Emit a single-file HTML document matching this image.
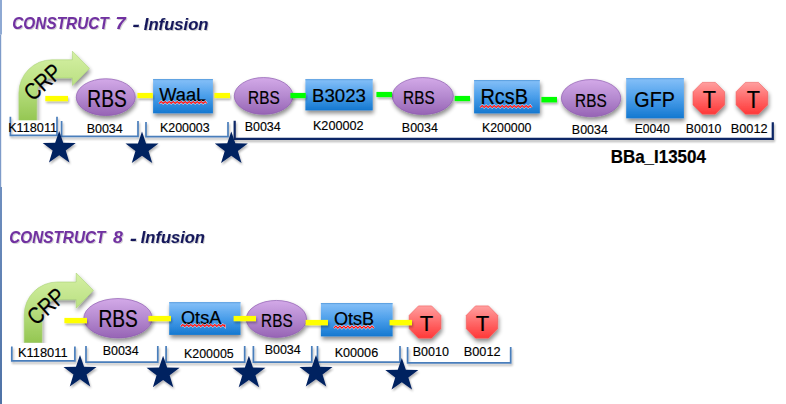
<!DOCTYPE html><html><head><meta charset="utf-8"><style>html,body{margin:0;padding:0;background:#fff;overflow:hidden;}svg{display:block;font-family:"Liberation Sans", sans-serif;}</style></head><body>
<svg width="786" height="404" viewBox="0 0 786 404">
<defs>
<linearGradient id="gp" x1="0" y1="0" x2="0" y2="1"><stop offset="0" stop-color="#D3A9E8"/><stop offset="0.5" stop-color="#B58AD0"/><stop offset="1" stop-color="#9764B5"/></linearGradient>
<linearGradient id="gb" x1="0" y1="0" x2="0" y2="1"><stop offset="0" stop-color="#86C0F8"/><stop offset="0.5" stop-color="#4A9EEA"/><stop offset="1" stop-color="#1478D0"/></linearGradient>
<linearGradient id="gr" x1="0" y1="0" x2="0" y2="1"><stop offset="0" stop-color="#FF9F9F"/><stop offset="0.5" stop-color="#FF6A6A"/><stop offset="1" stop-color="#FF3838"/></linearGradient>
<linearGradient id="gg" x1="0" y1="0" x2="0" y2="1"><stop offset="0" stop-color="#D5F0A4"/><stop offset="0.5" stop-color="#BAE082"/><stop offset="1" stop-color="#94C652"/></linearGradient>
<linearGradient id="lb2" x1="0" y1="0" x2="0" y2="1"><stop offset="0" stop-color="#6F8FBF"/><stop offset="1" stop-color="#4E72A6"/></linearGradient>
<filter id="sh" x="-20%" y="-20%" width="140%" height="170%"><feGaussianBlur in="SourceAlpha" stdDeviation="2.0"/><feOffset dx="1" dy="2.5"/><feComponentTransfer><feFuncA type="linear" slope="0.45"/></feComponentTransfer><feMerge><feMergeNode/><feMergeNode in="SourceGraphic"/></feMerge></filter>
<filter id="shs" x="-20%" y="-20%" width="140%" height="160%"><feGaussianBlur in="SourceAlpha" stdDeviation="1.2"/><feOffset dx="0.8" dy="1.6"/><feComponentTransfer><feFuncA type="linear" slope="0.3"/></feComponentTransfer><feMerge><feMergeNode/><feMergeNode in="SourceGraphic"/></feMerge></filter>
<filter id="sh2" x="-10%" y="-60%" width="120%" height="250%"><feGaussianBlur in="SourceAlpha" stdDeviation="1.0"/><feOffset dx="0.6" dy="1.6"/><feComponentTransfer><feFuncA type="linear" slope="0.3"/></feComponentTransfer><feMerge><feMergeNode/><feMergeNode in="SourceGraphic"/></feMerge></filter>
<filter id="tsh" x="-5%" y="-20%" width="110%" height="150%"><feGaussianBlur in="SourceAlpha" stdDeviation="0.6"/><feOffset dx="0.8" dy="0.8"/><feComponentTransfer><feFuncA type="linear" slope="0.18"/></feComponentTransfer><feMerge><feMergeNode/><feMergeNode in="SourceGraphic"/></feMerge></filter>
</defs>
<rect width="786" height="404" fill="#fff"/>
<rect x="0" y="0" width="2" height="34.5" fill="#8EA9D3"/>
<rect x="0" y="34.5" width="1.2" height="152.5" fill="#7E9BC9"/>
<rect x="0" y="187" width="2" height="217" fill="url(#lb2)"/>
<path d="M18.90,121.00 V92.80 A33,33 0 0 1 51.90,59.80 H72.40 V51.20 L89.50,68.40 L72.40,85.40 V77.90 H51.90 A15.100000000000001,15.100000000000001 0 0 0 36.80,93.00 V121.00 Z" fill="url(#gg)" stroke="#A8D276" stroke-width="0.6" filter="url(#sh)"/>
<ellipse cx="105.75" cy="97.15" rx="29.50" ry="18.40" fill="url(#gp)" stroke="#8E5BB0" stroke-width="0.7" filter="url(#sh)"/>
<ellipse cx="263.60" cy="95.95" rx="29.35" ry="18.40" fill="url(#gp)" stroke="#8E5BB0" stroke-width="0.7" filter="url(#sh)"/>
<ellipse cx="422.80" cy="96.05" rx="30.55" ry="18.50" fill="url(#gp)" stroke="#8E5BB0" stroke-width="0.7" filter="url(#sh)"/>
<ellipse cx="591.05" cy="98.15" rx="29.70" ry="18.60" fill="url(#gp)" stroke="#8E5BB0" stroke-width="0.7" filter="url(#sh)"/>
<rect x="153.10" y="79.10" width="59.80" height="34.20" fill="url(#gb)" filter="url(#sh)"/>
<rect x="153.10" y="79.10" width="59.80" height="1" fill="#4F96DA" opacity="0.8"/>
<rect x="305.40" y="79.20" width="67.30" height="31.20" fill="url(#gb)" filter="url(#sh)"/>
<rect x="305.40" y="79.20" width="67.30" height="1" fill="#4F96DA" opacity="0.8"/>
<rect x="474.10" y="80.10" width="65.70" height="33.30" fill="url(#gb)" filter="url(#sh)"/>
<rect x="474.10" y="80.10" width="65.70" height="1" fill="#4F96DA" opacity="0.8"/>
<rect x="626.20" y="78.20" width="57.70" height="40.10" fill="url(#gb)" filter="url(#sh)"/>
<rect x="626.20" y="78.20" width="57.70" height="1" fill="#4F96DA" opacity="0.8"/>
<polygon points="702.26,82.40 715.34,82.40 724.60,91.71 724.60,104.89 715.34,114.20 702.26,114.20 693.00,104.89 693.00,91.71" fill="url(#gr)" stroke="#F05A5A" stroke-width="0.6" filter="url(#sh)"/>
<polygon points="745.36,82.40 758.44,82.40 767.70,91.71 767.70,104.89 758.44,114.20 745.36,114.20 736.10,104.89 736.10,91.71" fill="url(#gr)" stroke="#F05A5A" stroke-width="0.6" filter="url(#sh)"/>
<rect x="45.30" y="95.90" width="22.70" height="5.30" fill="#FFFF00" filter="url(#sh2)"/>
<rect x="137.40" y="92.90" width="15.40" height="5.20" fill="#FFFF00" filter="url(#sh2)"/>
<rect x="214.40" y="92.90" width="15.60" height="5.20" fill="#FFFF00" filter="url(#sh2)"/>
<rect x="290.40" y="92.90" width="15.40" height="5.20" fill="#00FF00" filter="url(#sh2)"/>
<rect x="376.40" y="91.90" width="15.60" height="5.20" fill="#00FF00" filter="url(#sh2)"/>
<rect x="454.70" y="95.90" width="15.30" height="5.20" fill="#00FF00" filter="url(#sh2)"/>
<rect x="541.40" y="96.90" width="15.60" height="5.50" fill="#00FF00" filter="url(#sh2)"/>
<text x="0" y="0" font-size="23.5" textLength="41.5" lengthAdjust="spacingAndGlyphs" transform="translate(42.6,82.0) rotate(-42) translate(-20.75,8.225)" fill="#000" stroke="#000" stroke-width="0.2">CRP</text>
<rect x="8" y="120.3" width="50" height="14" fill="#fff"/>
<path d="M10.40,116.70 V135.30 H57.00 V116.70" fill="none" stroke="#4A7EBB" stroke-width="1.7" filter="url(#sh2)"/>
<path d="M61.60,121.00 V136.40 H138.00 V121.00" fill="none" stroke="#4A7EBB" stroke-width="1.7" filter="url(#sh2)"/>
<path d="M146.00,121.90 V136.70 H228.00 V121.90" fill="none" stroke="#4A7EBB" stroke-width="1.7" filter="url(#sh2)"/>
<path d="M234.7,120.7 V138.8 H772.8 V122.3" fill="none" stroke="#0F2766" stroke-width="2.2" filter="url(#sh2)"/>
<polygon points="59.20,131.00 63.24,142.84 75.75,143.02 65.74,150.52 69.43,162.48 59.20,155.27 48.97,162.48 52.66,150.52 42.65,143.02 55.16,142.84" fill="#002060" filter="url(#shs)"/>
<polygon points="142.00,131.60 146.04,143.44 158.55,143.62 148.54,151.12 152.23,163.08 142.00,155.87 131.77,163.08 135.46,151.12 125.45,143.62 137.96,143.44" fill="#002060" filter="url(#shs)"/>
<polygon points="231.30,131.40 235.34,143.24 247.85,143.42 237.84,150.92 241.53,162.88 231.30,155.67 221.07,162.88 224.76,150.92 214.75,143.42 227.26,143.24" fill="#002060" filter="url(#shs)"/>
<path d="M24.20,342.50 V315.00 A33,33 0 0 1 57.20,282.00 H76.20 V273.00 L93.40,290.40 L76.20,308.20 V299.60 H57.20 A15.2,15.2 0 0 0 42.00,314.80 V342.50 Z" fill="url(#gg)" stroke="#A8D276" stroke-width="0.6" filter="url(#sh)"/>
<ellipse cx="118.00" cy="318.25" rx="34.25" ry="19.70" fill="url(#gp)" stroke="#8E5BB0" stroke-width="0.7" filter="url(#sh)"/>
<ellipse cx="276.40" cy="318.95" rx="30.15" ry="18.50" fill="url(#gp)" stroke="#8E5BB0" stroke-width="0.7" filter="url(#sh)"/>
<rect x="169.20" y="302.20" width="71.30" height="32.70" fill="url(#gb)" filter="url(#sh)"/>
<rect x="169.20" y="302.20" width="71.30" height="1" fill="#4F96DA" opacity="0.8"/>
<rect x="320.90" y="303.10" width="71.70" height="33.30" fill="url(#gb)" filter="url(#sh)"/>
<rect x="320.90" y="303.10" width="71.70" height="1" fill="#4F96DA" opacity="0.8"/>
<polygon points="418.48,305.90 431.62,305.90 440.90,315.36 440.90,328.74 431.62,338.20 418.48,338.20 409.20,328.74 409.20,315.36" fill="url(#gr)" stroke="#F05A5A" stroke-width="0.6" filter="url(#sh)"/>
<polygon points="475.50,305.90 488.50,305.90 497.70,315.36 497.70,328.74 488.50,338.20 475.50,338.20 466.30,328.74 466.30,315.36" fill="url(#gr)" stroke="#F05A5A" stroke-width="0.6" filter="url(#sh)"/>
<rect x="64.40" y="317.90" width="22.60" height="5.30" fill="#FFFF00" filter="url(#sh2)"/>
<rect x="148.40" y="315.90" width="22.60" height="5.30" fill="#FFFF00" filter="url(#sh2)"/>
<rect x="233.60" y="315.90" width="22.40" height="5.30" fill="#FFFF00" filter="url(#sh2)"/>
<rect x="305.60" y="319.90" width="22.40" height="5.40" fill="#FFFF00" filter="url(#sh2)"/>
<rect x="389.60" y="319.90" width="22.40" height="5.40" fill="#FFFF00" filter="url(#sh2)"/>
<text x="0" y="0" font-size="23.5" textLength="41.5" lengthAdjust="spacingAndGlyphs" transform="translate(46,306.3) rotate(-42) translate(-20.75,8.225)" fill="#000" stroke="#000" stroke-width="0.2">CRP</text>
<rect x="16" y="343" width="52" height="14" fill="#fff"/>
<path d="M11.80,346.50 V360.80 H74.90 V346.50" fill="none" stroke="#4A7EBB" stroke-width="1.7" filter="url(#sh2)"/>
<path d="M86.00,346.00 V362.20 H157.80 V346.00" fill="none" stroke="#4A7EBB" stroke-width="1.7" filter="url(#sh2)"/>
<path d="M166.10,346.00 V362.20 H244.70 V346.00" fill="none" stroke="#4A7EBB" stroke-width="1.7" filter="url(#sh2)"/>
<path d="M253.40,346.00 V362.20 H311.80 V346.00" fill="none" stroke="#4A7EBB" stroke-width="1.7" filter="url(#sh2)"/>
<path d="M317.50,346.00 V362.20 H400.00 V346.00" fill="none" stroke="#4A7EBB" stroke-width="1.7" filter="url(#sh2)"/>
<path d="M407.60,346.90 V362.80 H510.70 V346.90" fill="none" stroke="#4A7EBB" stroke-width="1.7" filter="url(#sh2)"/>
<polygon points="80.00,354.90 84.04,366.74 96.55,366.92 86.54,374.42 90.23,386.38 80.00,379.17 69.77,386.38 73.46,374.42 63.45,366.92 75.96,366.74" fill="#002060" filter="url(#shs)"/>
<polygon points="163.10,355.70 167.14,367.54 179.65,367.72 169.64,375.22 173.33,387.18 163.10,379.97 152.87,387.18 156.56,375.22 146.55,367.72 159.06,367.54" fill="#002060" filter="url(#shs)"/>
<polygon points="248.90,355.70 252.94,367.54 265.45,367.72 255.44,375.22 259.13,387.18 248.90,379.97 238.67,387.18 242.36,375.22 232.35,367.72 244.86,367.54" fill="#002060" filter="url(#shs)"/>
<polygon points="316.00,354.90 320.04,366.74 332.55,366.92 322.54,374.42 326.23,386.38 316.00,379.17 305.77,386.38 309.46,374.42 299.45,366.92 311.96,366.74" fill="#002060" filter="url(#shs)"/>
<polygon points="401.80,358.00 405.84,369.84 418.35,370.02 408.34,377.52 412.03,389.48 401.80,382.27 391.57,389.48 395.26,377.52 385.25,370.02 397.76,369.84" fill="#002060" filter="url(#shs)"/>
<text x="12.22" y="29.32" font-size="17.22" textLength="96.55" lengthAdjust="spacingAndGlyphs" fill="#7030A0" font-weight="bold" font-style="italic" stroke="#7030A0" stroke-width="0.1" filter="url(#tsh)">CONSTRUCT</text>
<text x="115.49" y="28.90" font-size="17.23" textLength="10.16" lengthAdjust="spacingAndGlyphs" fill="#7030A0" font-weight="bold" font-style="italic" stroke="#7030A0" stroke-width="0.1" filter="url(#tsh)">7</text>
<text x="132.50" y="30.52" font-size="17.70" textLength="7.13" lengthAdjust="spacingAndGlyphs" fill="#14185A" font-weight="bold" font-style="italic" stroke="#14185A" stroke-width="0.1" filter="url(#tsh)">-</text>
<text x="143.85" y="30.20" font-size="16.15" textLength="64.63" lengthAdjust="spacingAndGlyphs" fill="#14185A" font-weight="bold" font-style="italic" stroke="#14185A" stroke-width="0.1" filter="url(#tsh)">Infusion</text>
<text x="87.36" y="106.51" font-size="23.25" textLength="39.33" lengthAdjust="spacingAndGlyphs" fill="#000" font-weight="normal" font-style="normal" stroke="#000" stroke-width="0.2">RBS</text>
<text x="159.18" y="100.75" font-size="18.61" textLength="47.14" lengthAdjust="spacingAndGlyphs" fill="#000" font-weight="normal" font-style="normal" stroke="#000" stroke-width="0.2">WaaL</text>
<text x="248.12" y="103.58" font-size="18.19" textLength="31.58" lengthAdjust="spacingAndGlyphs" fill="#000" font-weight="normal" font-style="normal" stroke="#000" stroke-width="0.2">RBS</text>
<text x="312.03" y="101.62" font-size="17.92" textLength="53.86" lengthAdjust="spacingAndGlyphs" fill="#000" font-weight="normal" font-style="normal" stroke="#000" stroke-width="0.2">B3023</text>
<text x="403.08" y="103.70" font-size="18.40" textLength="31.58" lengthAdjust="spacingAndGlyphs" fill="#000" font-weight="normal" font-style="normal" stroke="#000" stroke-width="0.2">RBS</text>
<text x="480.40" y="104.30" font-size="22.72" textLength="47.53" lengthAdjust="spacingAndGlyphs" fill="#000" font-weight="normal" font-style="normal" stroke="#000" stroke-width="0.2">RcsB</text>
<text x="575.10" y="106.58" font-size="18.30" textLength="31.58" lengthAdjust="spacingAndGlyphs" fill="#000" font-weight="normal" font-style="normal" stroke="#000" stroke-width="0.2">RBS</text>
<text x="634.33" y="106.85" font-size="22.41" textLength="40.47" lengthAdjust="spacingAndGlyphs" fill="#000" font-weight="normal" font-style="normal" stroke="#000" stroke-width="0.2">GFP</text>
<text x="702.73" y="107.94" font-size="23.62" textLength="13.24" lengthAdjust="spacingAndGlyphs" fill="#000" font-weight="normal" font-style="normal" stroke="#000" stroke-width="0.2">T</text>
<text x="746.73" y="107.94" font-size="23.62" textLength="13.24" lengthAdjust="spacingAndGlyphs" fill="#000" font-weight="normal" font-style="normal" stroke="#000" stroke-width="0.2">T</text>
<text x="8.17" y="131.65" font-size="13.05" textLength="48.90" lengthAdjust="spacingAndGlyphs" fill="#000" font-weight="normal" font-style="normal" stroke="#000" stroke-width="0.15">K118011</text>
<text x="86.64" y="133.05" font-size="13.05" textLength="36.15" lengthAdjust="spacingAndGlyphs" fill="#000" font-weight="normal" font-style="normal" stroke="#000" stroke-width="0.15">B0034</text>
<text x="159.99" y="131.65" font-size="13.05" textLength="49.68" lengthAdjust="spacingAndGlyphs" fill="#000" font-weight="normal" font-style="normal" stroke="#000" stroke-width="0.15">K200003</text>
<text x="244.64" y="131.05" font-size="13.05" textLength="36.15" lengthAdjust="spacingAndGlyphs" fill="#000" font-weight="normal" font-style="normal" stroke="#000" stroke-width="0.15">B0034</text>
<text x="312.90" y="130.30" font-size="13.05" textLength="50.73" lengthAdjust="spacingAndGlyphs" fill="#000" font-weight="normal" font-style="normal" stroke="#000" stroke-width="0.15">K200002</text>
<text x="401.87" y="131.90" font-size="13.05" textLength="36.01" lengthAdjust="spacingAndGlyphs" fill="#000" font-weight="normal" font-style="normal" stroke="#000" stroke-width="0.15">B0034</text>
<text x="481.99" y="132.35" font-size="13.05" textLength="49.38" lengthAdjust="spacingAndGlyphs" fill="#000" font-weight="normal" font-style="normal" stroke="#000" stroke-width="0.15">K200000</text>
<text x="571.87" y="133.60" font-size="13.05" textLength="36.01" lengthAdjust="spacingAndGlyphs" fill="#000" font-weight="normal" font-style="normal" stroke="#000" stroke-width="0.15">B0034</text>
<text x="634.66" y="132.60" font-size="13.05" textLength="35.14" lengthAdjust="spacingAndGlyphs" fill="#000" font-weight="normal" font-style="normal" stroke="#000" stroke-width="0.15">E0040</text>
<text x="685.85" y="132.90" font-size="13.05" textLength="35.58" lengthAdjust="spacingAndGlyphs" fill="#000" font-weight="normal" font-style="normal" stroke="#000" stroke-width="0.15">B0010</text>
<text x="730.73" y="132.75" font-size="13.05" textLength="36.86" lengthAdjust="spacingAndGlyphs" fill="#000" font-weight="normal" font-style="normal" stroke="#000" stroke-width="0.15">B0012</text>
<text x="610.65" y="162.52" font-size="17.58" textLength="95.25" lengthAdjust="spacingAndGlyphs" fill="#000" font-weight="bold" font-style="normal" stroke="#000" stroke-width="0.2">BBa_I13504</text>
<text x="9.17" y="242.90" font-size="17.23" textLength="96.29" lengthAdjust="spacingAndGlyphs" fill="#7030A0" font-weight="bold" font-style="italic" stroke="#7030A0" stroke-width="0.1" filter="url(#tsh)">CONSTRUCT</text>
<text x="113.04" y="242.90" font-size="17.23" textLength="9.83" lengthAdjust="spacingAndGlyphs" fill="#7030A0" font-weight="bold" font-style="italic" stroke="#7030A0" stroke-width="0.1" filter="url(#tsh)">8</text>
<text x="130.04" y="244.52" font-size="17.70" textLength="6.77" lengthAdjust="spacingAndGlyphs" fill="#14185A" font-weight="bold" font-style="italic" stroke="#14185A" stroke-width="0.1" filter="url(#tsh)">-</text>
<text x="140.79" y="243.32" font-size="16.04" textLength="64.14" lengthAdjust="spacingAndGlyphs" fill="#14185A" font-weight="bold" font-style="italic" stroke="#14185A" stroke-width="0.1" filter="url(#tsh)">Infusion</text>
<text x="98.49" y="326.88" font-size="23.05" textLength="39.32" lengthAdjust="spacingAndGlyphs" fill="#000" font-weight="normal" font-style="normal" stroke="#000" stroke-width="0.2">RBS</text>
<text x="180.96" y="323.82" font-size="17.84" textLength="40.40" lengthAdjust="spacingAndGlyphs" fill="#000" font-weight="normal" font-style="normal" stroke="#000" stroke-width="0.2">OtsA</text>
<text x="261.08" y="326.70" font-size="18.40" textLength="31.58" lengthAdjust="spacingAndGlyphs" fill="#000" font-weight="normal" font-style="normal" stroke="#000" stroke-width="0.2">RBS</text>
<text x="333.98" y="324.54" font-size="17.70" textLength="40.20" lengthAdjust="spacingAndGlyphs" fill="#000" font-weight="normal" font-style="normal" stroke="#000" stroke-width="0.2">OtsB</text>
<text x="419.65" y="331.08" font-size="22.47" textLength="13.50" lengthAdjust="spacingAndGlyphs" fill="#000" font-weight="normal" font-style="normal" stroke="#000" stroke-width="0.2">T</text>
<text x="475.65" y="331.08" font-size="22.47" textLength="13.50" lengthAdjust="spacingAndGlyphs" fill="#000" font-weight="normal" font-style="normal" stroke="#000" stroke-width="0.2">T</text>
<text x="17.92" y="356.65" font-size="13.05" textLength="49.69" lengthAdjust="spacingAndGlyphs" fill="#000" font-weight="normal" font-style="normal" stroke="#000" stroke-width="0.15">K118011</text>
<text x="102.64" y="355.05" font-size="13.05" textLength="36.15" lengthAdjust="spacingAndGlyphs" fill="#000" font-weight="normal" font-style="normal" stroke="#000" stroke-width="0.15">B0034</text>
<text x="183.99" y="357.65" font-size="13.05" textLength="49.71" lengthAdjust="spacingAndGlyphs" fill="#000" font-weight="normal" font-style="normal" stroke="#000" stroke-width="0.15">K200005</text>
<text x="264.64" y="354.05" font-size="13.05" textLength="36.15" lengthAdjust="spacingAndGlyphs" fill="#000" font-weight="normal" font-style="normal" stroke="#000" stroke-width="0.15">B0034</text>
<text x="334.64" y="357.00" font-size="13.05" textLength="43.55" lengthAdjust="spacingAndGlyphs" fill="#000" font-weight="normal" font-style="normal" stroke="#000" stroke-width="0.15">K00006</text>
<text x="412.77" y="355.87" font-size="13.05" textLength="36.20" lengthAdjust="spacingAndGlyphs" fill="#000" font-weight="normal" font-style="normal" stroke="#000" stroke-width="0.15">B0010</text>
<text x="463.73" y="355.87" font-size="13.05" textLength="36.86" lengthAdjust="spacingAndGlyphs" fill="#000" font-weight="normal" font-style="normal" stroke="#000" stroke-width="0.15">B0012</text>
<path d="M159.20,103.50 L161.20,101.50 L163.20,103.50 L165.20,101.50 L167.20,103.50 L169.20,101.50 L171.20,103.50 L173.20,101.50 L175.20,103.50 L177.20,101.50 L179.20,103.50 L181.20,101.50 L183.20,103.50 L185.20,101.50 L187.20,103.50 L189.20,101.50 L191.20,103.50 L193.20,101.50 L195.20,103.50 L197.20,101.50 L199.20,103.50 L201.20,101.50 L203.20,103.50 L205.20,101.50 L206.80,103.50" fill="none" stroke="#fff" stroke-width="2.2" opacity="0.7"/>
<path d="M159.20,103.50 L161.20,101.50 L163.20,103.50 L165.20,101.50 L167.20,103.50 L169.20,101.50 L171.20,103.50 L173.20,101.50 L175.20,103.50 L177.20,101.50 L179.20,103.50 L181.20,101.50 L183.20,103.50 L185.20,101.50 L187.20,103.50 L189.20,101.50 L191.20,103.50 L193.20,101.50 L195.20,103.50 L197.20,101.50 L199.20,103.50 L201.20,101.50 L203.20,103.50 L205.20,101.50 L206.80,103.50" fill="none" stroke="#FF1010" stroke-width="1.1"/>
<path d="M480.20,107.50 L482.20,105.50 L484.20,107.50 L486.20,105.50 L488.20,107.50 L490.20,105.50 L492.20,107.50 L494.20,105.50 L496.20,107.50 L498.20,105.50 L500.20,107.50 L502.20,105.50 L504.20,107.50 L506.20,105.50 L508.20,107.50 L510.20,105.50 L512.20,107.50 L514.20,105.50 L516.20,107.50 L518.20,105.50 L520.20,107.50 L522.20,105.50 L524.20,107.50 L526.20,105.50 L528.20,107.50 L530.20,105.50 L531.70,107.50" fill="none" stroke="#fff" stroke-width="2.2" opacity="0.7"/>
<path d="M480.20,107.50 L482.20,105.50 L484.20,107.50 L486.20,105.50 L488.20,107.50 L490.20,105.50 L492.20,107.50 L494.20,105.50 L496.20,107.50 L498.20,105.50 L500.20,107.50 L502.20,105.50 L504.20,107.50 L506.20,105.50 L508.20,107.50 L510.20,105.50 L512.20,107.50 L514.20,105.50 L516.20,107.50 L518.20,105.50 L520.20,107.50 L522.20,105.50 L524.20,107.50 L526.20,105.50 L528.20,107.50 L530.20,105.50 L531.70,107.50" fill="none" stroke="#FF1010" stroke-width="1.1"/>
<path d="M180.80,326.50 L182.80,324.50 L184.80,326.50 L186.80,324.50 L188.80,326.50 L190.80,324.50 L192.80,326.50 L194.80,324.50 L196.80,326.50 L198.80,324.50 L200.80,326.50 L202.80,324.50 L204.80,326.50 L206.80,324.50 L208.80,326.50 L210.80,324.50 L212.80,326.50 L214.80,324.50 L216.80,326.50 L218.80,324.50 L220.80,326.50 L222.80,324.50 L224.80,326.50 L224.90,324.50" fill="none" stroke="#fff" stroke-width="2.2" opacity="0.7"/>
<path d="M180.80,326.50 L182.80,324.50 L184.80,326.50 L186.80,324.50 L188.80,326.50 L190.80,324.50 L192.80,326.50 L194.80,324.50 L196.80,326.50 L198.80,324.50 L200.80,326.50 L202.80,324.50 L204.80,326.50 L206.80,324.50 L208.80,326.50 L210.80,324.50 L212.80,326.50 L214.80,324.50 L216.80,326.50 L218.80,324.50 L220.80,326.50 L222.80,324.50 L224.80,326.50 L224.90,324.50" fill="none" stroke="#FF1010" stroke-width="1.1"/>
<path d="M333.90,328.10 L335.90,326.10 L337.90,328.10 L339.90,326.10 L341.90,328.10 L343.90,326.10 L345.90,328.10 L347.90,326.10 L349.90,328.10 L351.90,326.10 L353.90,328.10 L355.90,326.10 L357.90,328.10 L359.90,326.10 L361.90,328.10 L363.90,326.10 L365.90,328.10 L367.90,326.10 L369.90,328.10 L371.90,326.10 L373.90,328.10" fill="none" stroke="#fff" stroke-width="2.2" opacity="0.7"/>
<path d="M333.90,328.10 L335.90,326.10 L337.90,328.10 L339.90,326.10 L341.90,328.10 L343.90,326.10 L345.90,328.10 L347.90,326.10 L349.90,328.10 L351.90,326.10 L353.90,328.10 L355.90,326.10 L357.90,328.10 L359.90,326.10 L361.90,328.10 L363.90,326.10 L365.90,328.10 L367.90,326.10 L369.90,328.10 L371.90,326.10 L373.90,328.10" fill="none" stroke="#FF1010" stroke-width="1.1"/>
</svg></body></html>
